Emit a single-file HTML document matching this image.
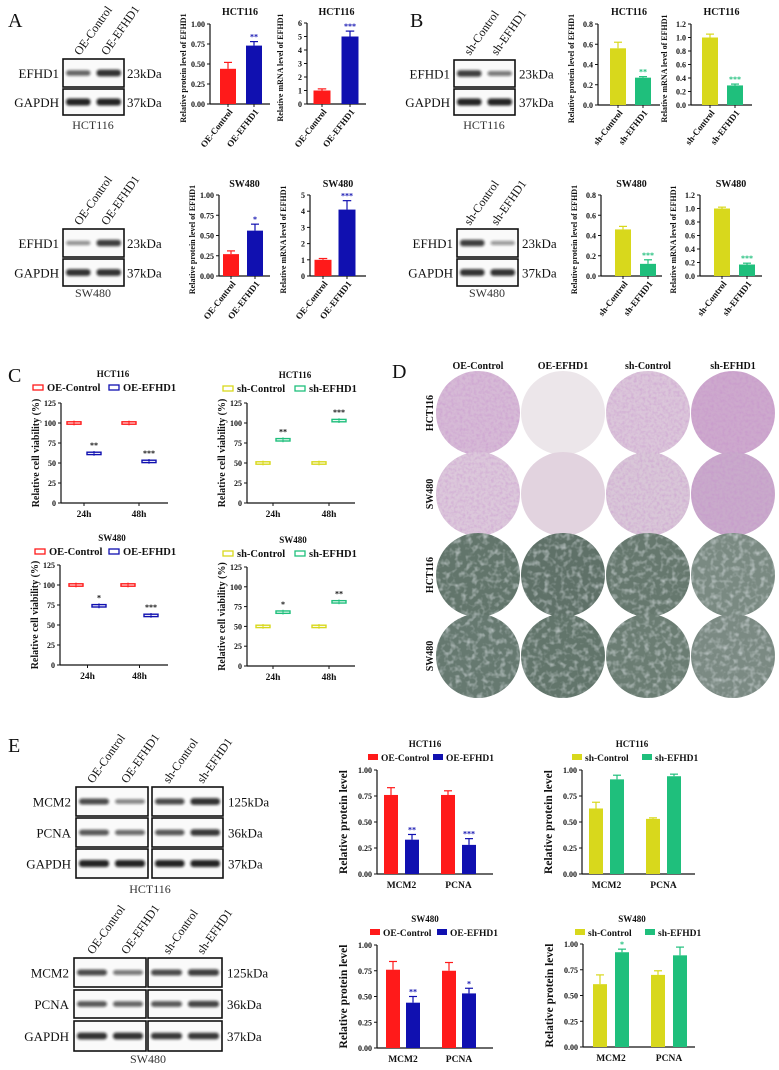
<!DOCTYPE html>
<html><head><meta charset="utf-8">
<style>
html,body{margin:0;padding:0;background:#fff;}
svg{display:block;}
</style></head>
<body>
<svg id="fig" xmlns="http://www.w3.org/2000/svg" width="779" height="1070" viewBox="0 0 779 1070">
<defs>
<filter id="blur1" x="-20%" y="-50%" width="140%" height="200%"><feGaussianBlur stdDeviation="1.3"/></filter>
<filter id="texP" x="0" y="0" width="100%" height="100%"><feTurbulence type="fractalNoise" baseFrequency="0.35" numOctaves="2" seed="3"/><feColorMatrix type="matrix" values="0 0 0 0 0.55  0 0 0 0 0.25  0 0 0 0 0.6  0 0 0 -1.6 1.0"/><feComposite in2="SourceGraphic" operator="in"/></filter>
<filter id="texG" x="0" y="0" width="100%" height="100%"><feTurbulence type="fractalNoise" baseFrequency="0.18" numOctaves="2" seed="7"/><feColorMatrix type="matrix" values="0 0 0 0 0.85  0 0 0 0 0.88  0 0 0 0 0.92  0 0 0 -2.2 1.2"/><feComposite in2="SourceGraphic" operator="in"/></filter>
</defs>
</svg>
<script>
// ---------- data arrays ----------
const aCats = ['OE-Control', 'OE-EFHD1'];
const bCats = ['sh-Control', 'sh-EFHD1'];
const a1Vals = [0.44, 0.73], a1Errs = [0.08, 0.05], a1Sig = ['', '**'];
const a2Vals = [1.0, 5.0], a2Errs = [0.12, 0.4], a2Sig = ['', '***'];
const a3Vals = [0.27, 0.56], a3Errs = [0.04, 0.08], a3Sig = ['', '*'];
const a4Vals = [1.0, 4.1], a4Errs = [0.08, 0.55], a4Sig = ['', '***'];
const b1Vals = [0.56, 0.27], b1Errs = [0.06, 0.01], b1Sig = ['', '**'];
const b2Vals = [1.0, 0.29], b2Errs = [0.05, 0.02], b2Sig = ['', '***'];
const b3Vals = [0.46, 0.12], b3Errs = [0.03, 0.04], b3Sig = ['', '***'];
const b4Vals = [1.0, 0.17], b4Errs = [0.02, 0.02], b4Sig = ['', '***'];
const ticksProtA = [0, 0.25, 0.5, 0.75, 1.0];
const ticksMrnaA1 = [0, 1, 2, 3, 4, 5, 6];
const ticksMrnaA2 = [0, 1, 2, 3, 4, 5];
const ticksProtB = [0, 0.2, 0.4, 0.6, 0.8];
const ticksMrnaB = [0, 0.2, 0.4, 0.6, 0.8, 1.0, 1.2];

const cTimes = ['24h', '48h'];
const cTicks = [0, 25, 50, 75, 100, 125];
const c1Ctrl = [100, 100], c1Trt = [62, 52], c1Sig = ['**', '***'];
const c2Ctrl = [50, 50], c2Trt = [79, 103], c2Sig = ['**', '***'];
const c3Ctrl = [100, 100], c3Trt = [74, 62], c3Sig = ['*', '***'];
const c4Ctrl = [50, 50], c4Trt = [68, 81], c4Sig = ['*', '**'];

const eCats = ['MCM2', 'PCNA'];
const eTicks = [0, 0.25, 0.5, 0.75, 1.0];
const e1Ctrl = [0.76, 0.76], e1CtrlErr = [0.07, 0.04], e1Trt = [0.33, 0.28], e1TrtErr = [0.05, 0.06], e1Sig = ['**', '***'];
const e2Ctrl = [0.63, 0.53], e2CtrlErr = [0.06, 0.01], e2Trt = [0.91, 0.94], e2TrtErr = [0.04, 0.02], e2Sig = ['', ''];
const e3Ctrl = [0.76, 0.75], e3CtrlErr = [0.08, 0.08], e3Trt = [0.44, 0.53], e3TrtErr = [0.06, 0.05], e3Sig = ['**', '*'];
const e4Ctrl = [0.61, 0.70], e4CtrlErr = [0.09, 0.04], e4Trt = [0.92, 0.89], e4TrtErr = [0.03, 0.08], e4Sig = ['*', ''];

// ---------- helpers ----------
const NS = 'http://www.w3.org/2000/svg';
const svg = document.getElementById('fig');
const RED = '#ff1a1a', BLUE = '#1010b0', YEL = '#d8d81c', GRN = '#1fbf7c';
const SERIF = '"Liberation Serif", serif';

function mk(tag, attrs, name, parent) {
  const e = document.createElementNS(NS, tag);
  for (const k in attrs) e.setAttribute(k, attrs[k]);
  
  
  (parent || svg).appendChild(e);
  return e;
}
function group(name) { return mk('g', {}, name); }
function txt(x, y, s, o, name, parent) {
  o = o || {};
  const a = {x: x, y: y, 'font-family': SERIF, 'font-size': o.size || 10, fill: o.fill || '#111'};
  if (o.bold) a['font-weight'] = 'bold';
  if (o.anchor) a['text-anchor'] = o.anchor;
  if (o.rot !== undefined) a.transform = 'rotate(' + o.rot + ' ' + x + ' ' + y + ')';
  const t = mk('text', a, name, parent);
  t.textContent = s;
  return t;
}
function line(x1, y1, x2, y2, name, parent, col, w) {
  return mk('line', {x1: x1, y1: y1, x2: x2, y2: y2, stroke: col || '#111', 'stroke-width': w || 1.2}, name, parent);
}
function fmtTick(v, ticks) {
  const step = ticks[1] - ticks[0];
  if (step === 0.25) return v.toFixed(2);
  if (step < 1) return v.toFixed(1);
  return String(v);
}
function yAxis(g, c, ticks) {
  const max = ticks[ticks.length - 1];
  const y = v => c.bot - v / max * (c.bot - c.top);
  line(c.ax, c.top, c.ax, c.bot, 'y-axis-line', g);
  line(c.ax, c.bot, c.right, c.bot, 'x-axis-line', g);
  ticks.forEach(v => {
    line(c.ax - 3, y(v), c.ax, y(v), 'y-tick', g, '#111', 1);
    txt(c.ax - 5, y(v) + 3, fmtTick(v, ticks), {size: c.tsize || 8, bold: 1, anchor: 'end'}, 'y-tick-label', g);
  });
  return y;
}

// simple 2-bar chart (panels A,B)
function barChart(c, cats, vals, errs, sig, ticks, colors, name) {
  const g = group(name);
  const y = yAxis(g, c, ticks);
  const x = i => c.ax + c.pad + i * c.step;
  txt((c.ax + c.right) / 2, c.ty, c.title, {size: 10, bold: 1, anchor: 'middle'}, 'chart-title', g);
  txt(c.ax - 24, (c.top + c.bot) / 2 + 4, c.ylabel, {size: 8, bold: 1, anchor: 'middle', rot: -90}, 'y-axis-title', g);
  vals.forEach((v, i) => {
    const cx = x(i);
    mk('rect', {x: cx - c.bw / 2, y: y(v), width: c.bw, height: c.bot - y(v), fill: colors[i]}, 'bar-' + cats[i].toLowerCase(), g);
    line(cx, y(v), cx, y(v + errs[i]), 'error-bar', g, colors[i], 1.2);
    line(cx - c.bw / 4, y(v + errs[i]), cx + c.bw / 4, y(v + errs[i]), 'error-cap', g, colors[i], 1.2);
    line(cx, c.bot, cx, c.bot + 3, 'x-tick', g, '#111', 1);
    if (sig[i]) txt(cx, y(v + errs[i]) - 2, sig[i], {size: 8, bold: 1, anchor: 'middle', fill: colors[i]}, 'significance-mark', g);
    txt(cx + 5, c.bot + 8, cats[i], {size: 9, bold: 1, anchor: 'end', rot: -52}, 'x-tick-label', g);
  });
}

// box charts (panel C)
function boxChart(c, times, ctrl, trt, sig, colors, legend, name) {
  const g = group(name);
  const y = yAxis(g, c, cTicks);
  txt(c.tx, c.ty, c.title, {size: 9, bold: 1, anchor: 'middle'}, 'chart-title', g);
  txt(c.ax - 22, (c.top + c.bot) / 2, 'Relative cell viability (%)', {size: 10, bold: 1, anchor: 'middle', rot: -90}, 'y-axis-title', g);
  [0, 1].forEach(s => {
    mk('rect', {x: c.lx[s], y: c.ty + 8, width: 10, height: 5, fill: 'none', stroke: colors[s], 'stroke-width': 1.3}, 'legend-swatch', g);
    txt(c.lx[s] + 14, c.ty + 14, legend[s], {size: 10.5, bold: 1}, 'legend-entry', g);
  });
  times.forEach((t, i) => {
    const gx = c.ax + c.pad + i * c.step;
    txt(gx + c.off / 2, c.bot + 14, t, {size: 9.5, bold: 1, anchor: 'middle'}, 'x-tick-label', g);
    line(gx + c.off / 2, c.bot, gx + c.off / 2, c.bot + 3, 'x-tick', g, '#111', 1);
    [ctrl[i], trt[i]].forEach((v, s) => {
      const cx = gx + s * c.off;
      line(cx, y(v + 3), cx, y(v - 3), 'box-whisker', g, colors[s], 1);
      mk('rect', {x: cx - 7, y: y(v + 1.5), width: 14, height: y(v - 1.5) - y(v + 1.5), fill: 'none', stroke: colors[s], 'stroke-width': 1.4}, 'box-' + legend[s].toLowerCase() + '-' + times[i], g);
    });
    if (sig[i]) txt(gx + c.off, y(trt[i] + 3) - 3, sig[i], {size: 8, bold: 1, anchor: 'middle'}, 'significance-mark', g);
  });
}

// grouped bar charts (panel E)
function groupedBar(c, cats, s1, e1, s2, e2, sig, colors, legend, name) {
  const g = group(name);
  const y = yAxis(g, c, eTicks);
  txt(c.tx, c.ty, c.title, {size: 9, bold: 1, anchor: 'middle'}, 'chart-title', g);
  txt(c.ax - 30, (c.top + c.bot) / 2, 'Relative protein level', {size: 11.5, bold: 1, anchor: 'middle', rot: -90}, 'y-axis-title', g);
  [0, 1].forEach(s => {
    mk('rect', {x: c.lx[s], y: c.ty + 7, width: 10, height: 6, fill: colors[s]}, 'legend-swatch', g);
    txt(c.lx[s] + 13, c.ty + 14, legend[s], {size: 9.5, bold: 1}, 'legend-entry', g);
  });
  cats.forEach((cat, i) => {
    const gx = c.ax + c.pad + i * c.step;
    txt(gx + c.off / 2, c.bot + 14, cat, {size: 9.5, bold: 1, anchor: 'middle'}, 'x-tick-label', g);
    [[s1, e1], [s2, e2]].forEach((ser, s) => {
      const v = ser[0][i], er = ser[1][i], cx = gx + s * c.off;
      mk('rect', {x: cx - c.bw / 2, y: y(v), width: c.bw, height: c.bot - y(v), fill: colors[s]}, 'bar-' + cat.toLowerCase() + '-' + legend[s].toLowerCase(), g);
      line(cx, y(v), cx, y(v + er), 'error-bar', g, colors[s], 1.2);
      line(cx - 4, y(v + er), cx + 4, y(v + er), 'error-cap', g, colors[s], 1.2);
    });
    if (sig[i]) txt(gx + c.off, y(s2[i] + e2[i]) - 2, sig[i], {size: 8, bold: 1, anchor: 'middle', fill: colors[1]}, 'significance-mark', g);
  });
}

// western blot
function blot(name, x0, lanes, boxes, rows, labelX, kdaX, laneY, cell, cellY, strengths) {
  const g = group(name);
  lanes.forEach((l, i) => txt(l[1], laneY, l[0], {size: 12, rot: -55}, 'lane-label', g));
  rows.forEach((r, ri) => {
    txt(labelX, r.y + r.h / 2 + 5, r.name, {size: 13, anchor: 'end'}, 'row-label', g);
    txt(kdaX, r.y + r.h / 2 + 5, r.kda, {size: 13}, 'kda-label', g);
    boxes.forEach((b, bi) => {
      mk('rect', {x: b[0], y: r.y, width: b[1] - b[0], height: r.h, fill: '#fafafa', stroke: '#111', 'stroke-width': 1.6}, 'blot-box', g);
      const n = 2, w = (b[1] - b[0]) / n;
      for (let k = 0; k < n; k++) {
        const s = strengths[ri][bi * n + k];
        mk('rect', {x: b[0] + k * w + 3, y: r.y + r.h / 2 - 2 - s * 1.5, width: w - 6, height: 4 + s * 3, rx: 3, fill: '#111', opacity: 0.35 + s * 0.55, filter: 'url(#blur1)'}, 'protein-band', g);
      }
    });
  });
  txt(cellY[0], cellY[1], cell, {size: 12, anchor: 'middle', fill: '#333'}, 'cell-line-label', g);
}

// ---------- panel letters ----------
txt(8, 27, 'A', {size: 20}, 'panel-label-a');
txt(410, 27, 'B', {size: 20}, 'panel-label-b');
txt(8, 382, 'C', {size: 20}, 'panel-label-c');
txt(392, 378, 'D', {size: 20}, 'panel-label-d');
txt(8, 752, 'E', {size: 20}, 'panel-label-e');

// ---------- Panel A ----------
blot('blot-a-hct116', 0, [['OE-Control', 80], ['OE-EFHD1', 107]], [[63, 124]], [{name: 'EFHD1', kda: '23kDa', y: 59, h: 28}, {name: 'GAPDH', kda: '37kDa', y: 89, h: 26}], 59, 127, 56, 'HCT116', [93, 129], [[0.5, 0.9], [1, 1]]);
blot('blot-a-sw480', 0, [['OE-Control', 80], ['OE-EFHD1', 107]], [[63, 124]], [{name: 'EFHD1', kda: '23kDa', y: 229, h: 28}, {name: 'GAPDH', kda: '37kDa', y: 259, h: 27}], 59, 127, 226, 'SW480', [93, 297], [[0.15, 0.8], [0.9, 0.9]]);
barChart({ax: 210, top: 24, bot: 104, right: 270, pad: 18, step: 26, bw: 16, title: 'HCT116', ty: 15, ylabel: 'Relative protein level of EFHD1'}, aCats, a1Vals, a1Errs, a1Sig, ticksProtA, [RED, BLUE], 'chart-a-hct116-protein');
barChart({ax: 307, top: 23, bot: 104, right: 366, pad: 15, step: 28, bw: 17, title: 'HCT116', ty: 15, ylabel: 'Relative mRNA level of EFHD1'}, aCats, a2Vals, a2Errs, a2Sig, ticksMrnaA1, [RED, BLUE], 'chart-a-hct116-mrna');
barChart({ax: 219, top: 195, bot: 276, right: 270, pad: 12, step: 24, bw: 16, title: 'SW480', ty: 187, ylabel: 'Relative protein level of EFHD1'}, aCats, a3Vals, a3Errs, a3Sig, ticksProtA, [RED, BLUE], 'chart-a-sw480-protein');
barChart({ax: 310, top: 195, bot: 276, right: 366, pad: 13, step: 24, bw: 17, title: 'SW480', ty: 187, ylabel: 'Relative mRNA level of EFHD1'}, aCats, a4Vals, a4Errs, a4Sig, ticksMrnaA2, [RED, BLUE], 'chart-a-sw480-mrna');

// ---------- Panel B ----------
blot('blot-b-hct116', 0, [['sh-Control', 470], ['sh-EFHD1', 497]], [[454, 515]], [{name: 'EFHD1', kda: '23kDa', y: 60, h: 27}, {name: 'GAPDH', kda: '37kDa', y: 89, h: 26}], 450, 519, 56, 'HCT116', [484, 129], [[0.8, 0.35], [1, 1]]);
blot('blot-b-sw480', 0, [['sh-Control', 470], ['sh-EFHD1', 497]], [[457, 518]], [{name: 'EFHD1', kda: '23kDa', y: 229, h: 28}, {name: 'GAPDH', kda: '37kDa', y: 259, h: 27}], 453, 522, 226, 'SW480', [487, 297], [[0.8, 0.1], [0.9, 0.9]]);
barChart({ax: 598, top: 24, bot: 105, right: 660, pad: 20, step: 25, bw: 16, title: 'HCT116', ty: 15, ylabel: 'Relative protein level of EFHD1'}, bCats, b1Vals, b1Errs, b1Sig, ticksProtB, [YEL, GRN], 'chart-b-hct116-protein');
barChart({ax: 691, top: 24, bot: 105, right: 752, pad: 19, step: 25, bw: 16, title: 'HCT116', ty: 15, ylabel: 'Relative mRNA level of EFHD1'}, bCats, b2Vals, b2Errs, b2Sig, ticksMrnaB, [YEL, GRN], 'chart-b-hct116-mrna');
barChart({ax: 601, top: 195, bot: 276, right: 662, pad: 22, step: 25, bw: 16, title: 'SW480', ty: 187, ylabel: 'Relative protein level of EFHD1'}, bCats, b3Vals, b3Errs, b3Sig, ticksProtB, [YEL, GRN], 'chart-b-sw480-protein');
barChart({ax: 700, top: 195, bot: 276, right: 762, pad: 22, step: 25, bw: 16, title: 'SW480', ty: 187, ylabel: 'Relative mRNA level of EFHD1'}, bCats, b4Vals, b4Errs, b4Sig, ticksMrnaB, [YEL, GRN], 'chart-b-sw480-mrna');

// ---------- Panel C ----------
boxChart({ax: 61, top: 403, bot: 503, right: 168, pad: 13, step: 55, off: 20, title: 'HCT116', tx: 113, ty: 377, lx: [33, 109]}, cTimes, c1Ctrl, c1Trt, c1Sig, [RED, BLUE], ['OE-Control', 'OE-EFHD1'], 'chart-c-hct116-oe');
boxChart({ax: 247, top: 403, bot: 503, right: 355, pad: 16, step: 56, off: 20, title: 'HCT116', tx: 295, ty: 378, lx: [223, 295]}, cTimes, c2Ctrl, c2Trt, c2Sig, [YEL, GRN], ['sh-Control', 'sh-EFHD1'], 'chart-c-hct116-sh');
boxChart({ax: 60, top: 565, bot: 665, right: 168, pad: 16, step: 52, off: 23, title: 'SW480', tx: 112, ty: 541, lx: [35, 109]}, cTimes, c3Ctrl, c3Trt, c3Sig, [RED, BLUE], ['OE-Control', 'OE-EFHD1'], 'chart-c-sw480-oe');
boxChart({ax: 247, top: 567, bot: 666, right: 355, pad: 16, step: 56, off: 20, title: 'SW480', tx: 293, ty: 543, lx: [223, 295]}, cTimes, c4Ctrl, c4Trt, c4Sig, [YEL, GRN], ['sh-Control', 'sh-EFHD1'], 'chart-c-sw480-sh');

// ---------- Panel D ----------
(function () {
  const g = group('colony-image-grid');
  const cols = ['OE-Control', 'OE-EFHD1', 'sh-Control', 'sh-EFHD1'];
  const rows = ['HCT116', 'SW480', 'HCT116', 'SW480'];
  const fills = [['#d6bad6', '#ece6ea', '#dbc6da', '#cda9cd'], ['#dcc8db', '#e2d3df', '#d9c7d8', '#c9aacb'], ['#62756b', '#5f7168', '#66786e', '#7a8a82'], ['#667970', '#62756b', '#6b7d73', '#7b8a83']];
  cols.forEach((c, i) => txt(478 + i * 85, 369, c, {size: 10, bold: 1, anchor: 'middle'}, 'column-header', g));
  rows.forEach((r, j) => {
    const cy = 413 + j * 81;
    txt(433, cy, r, {size: 10, bold: 1, anchor: 'middle', rot: -90}, 'row-label', g);
    cols.forEach((c, i) => {
      const cx = 478 + i * 85;
      mk('circle', {cx: cx, cy: cy, r: 42, fill: fills[j][i]}, 'well-image', g);
      if (!(j < 2 && i === 1)) mk('circle', {cx: cx, cy: cy, r: 42, fill: '#fff', filter: j < 2 ? 'url(#texP)' : 'url(#texG)', opacity: j < 2 ? 0.5 : 0.55}, 'cell-texture', g);
    });
  });
})();

// ---------- Panel E ----------
const eLanes = [['OE-Control', 93], ['OE-EFHD1', 127], ['sh-Control', 169], ['sh-EFHD1', 203]];
blot('blot-e-hct116', 0, eLanes, [[76, 148], [152, 223]], [{name: 'MCM2', kda: '125kDa', y: 787, h: 29}, {name: 'PCNA', kda: '36kDa', y: 818, h: 29}, {name: 'GAPDH', kda: '37kDa', y: 849, h: 29}], 71, 228, 784, 'HCT116', [150, 893], [[0.7, 0.25, 0.7, 0.9], [0.6, 0.45, 0.6, 0.85], [1, 1, 1, 1]]);
blot('blot-e-sw480', 0, eLanes, [[74, 146], [148, 222]], [{name: 'MCM2', kda: '125kDa', y: 958, h: 29}, {name: 'PCNA', kda: '36kDa', y: 990, h: 28}, {name: 'GAPDH', kda: '37kDa', y: 1021, h: 30}], 69, 227, 955, 'SW480', [148, 1063], [[0.7, 0.35, 0.7, 0.8], [0.6, 0.5, 0.6, 0.75], [0.9, 0.9, 0.85, 0.85]]);
groupedBar({ax: 377, top: 770, bot: 874, right: 493, pad: 14, step: 57, off: 21, bw: 14, title: 'HCT116', tx: 425, ty: 747, lx: [368, 433]}, eCats, e1Ctrl, e1CtrlErr, e1Trt, e1TrtErr, e1Sig, [RED, BLUE], ['OE-Control', 'OE-EFHD1'], 'chart-e-hct116-oe');
groupedBar({ax: 582, top: 770, bot: 874, right: 695, pad: 14, step: 57, off: 21, bw: 14, title: 'HCT116', tx: 632, ty: 747, lx: [572, 642]}, eCats, e2Ctrl, e2CtrlErr, e2Trt, e2TrtErr, e2Sig, [YEL, GRN], ['sh-Control', 'sh-EFHD1'], 'chart-e-hct116-sh');
groupedBar({ax: 377, top: 945, bot: 1048, right: 493, pad: 16, step: 56, off: 20, bw: 14, title: 'SW480', tx: 425, ty: 922, lx: [370, 437]}, eCats, e3Ctrl, e3CtrlErr, e3Trt, e3TrtErr, e3Sig, [RED, BLUE], ['OE-Control', 'OE-EFHD1'], 'chart-e-sw480-oe');
groupedBar({ax: 583, top: 944, bot: 1047, right: 695, pad: 17, step: 58, off: 22, bw: 14, title: 'SW480', tx: 632, ty: 922, lx: [575, 645]}, eCats, e4Ctrl, e4CtrlErr, e4Trt, e4TrtErr, e4Sig, [YEL, GRN], ['sh-Control', 'sh-EFHD1'], 'chart-e-sw480-sh');
</script>
</body></html>
